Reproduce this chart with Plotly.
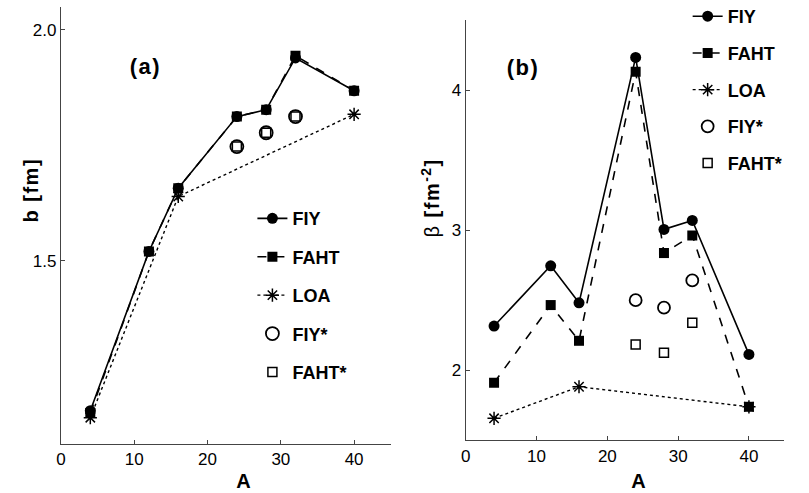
import plotly.graph_objects as go

# ---- data ----
A_all = [4, 12, 16, 24, 28, 32, 40]
A_loa = [4, 16, 40]
A_star = [24, 28, 32]

# panel (a): b [fm]
b_fiy = [1.175, 1.52, 1.657, 1.812, 1.827, 1.939, 1.868]
b_faht = [1.170, 1.52, 1.657, 1.812, 1.827, 1.944, 1.868]
b_loa = [1.160, 1.639, 1.817]
b_fiy_s = [1.747, 1.777, 1.812]
b_faht_s = [1.747, 1.777, 1.812]

# panel (b): beta [fm^-2]
be_fiy = [2.316, 2.746, 2.482, 4.233, 3.006, 3.070, 2.114]
be_faht = [1.912, 2.466, 2.211, 4.130, 2.837, 2.963, 1.740]
be_loa = [1.658, 1.883, 1.740]
be_fiy_s = [2.501, 2.447, 2.642]
be_faht_s = [2.185, 2.126, 2.340]

names = ["FIY", "FAHT", "LOA", "FIY*", "FAHT*"]

FONT = "Liberation Sans"
fig = go.Figure()


def add_panel(xa, ya, leg, fiy, faht, loa, fiy_s, faht_s, open_size):
    common = dict(xaxis=xa, yaxis=ya, legend=leg)
    fig.add_trace(go.Scatter(x=A_all, y=fiy, name=names[0], mode="lines+markers",
                             line=dict(color="black", width=1.6, dash="solid"),
                             marker=dict(symbol="circle", size=11, color="black"),
                             legendgroup=leg + "1", **common))
    fig.add_trace(go.Scatter(x=A_all, y=faht, name=names[1], mode="lines+markers",
                             line=dict(color="black", width=1.6, dash="dash"),
                             marker=dict(symbol="square", size=10, color="black"),
                             legendgroup=leg + "2", **common))
    fig.add_trace(go.Scatter(x=A_loa, y=loa, name=names[2], mode="lines+markers",
                             line=dict(color="black", width=1.4, dash="dot"),
                             marker=dict(symbol="asterisk-open", size=11, color="black",
                                         line=dict(color="black", width=1.5)),
                             legendgroup=leg + "3", **common))
    fig.add_trace(go.Scatter(x=A_star, y=fiy_s, name=names[3], mode="markers",
                             marker=dict(symbol="circle-open", size=open_size, color="black",
                                         line=dict(color="black", width=1.8)),
                             legendgroup=leg + "4", **common))
    fig.add_trace(go.Scatter(x=A_star, y=faht_s, name=names[4], mode="markers",
                             marker=dict(symbol="square-open", size=9, color="black",
                                         line=dict(color="black", width=1.5)),
                             legendgroup=leg + "5", **common))


add_panel("x", "y", "legend", b_fiy, b_faht, b_loa, b_fiy_s, b_faht_s, 13)
add_panel("x2", "y2", "legend2", be_fiy, be_faht, be_loa, be_fiy_s, be_faht_s, 12)

axis_common = dict(showline=True, linecolor="#444", linewidth=1.2, ticks="inside",
                   ticklen=4, tickcolor="#444", showgrid=False, zeroline=False,
                   tickfont=dict(family=FONT, size=17, color="black"), automargin=False)

leg_common = dict(font=dict(family=FONT, size=18, color="black", weight="bold"),
                  bgcolor="rgba(0,0,0,0)", itemwidth=30,
                  xanchor="left", yanchor="top")

fig.update_layout(
    width=809, height=493,
    margin=dict(l=0, r=0, t=0, b=0, autoexpand=False),
    paper_bgcolor="white", plot_bgcolor="white",
    xaxis=dict(domain=[0.0754, 0.483], range=[0, 45], tickvals=[0, 10, 20, 30, 40],
               anchor="y", **axis_common),
    yaxis=dict(domain=[0.0994, 0.9864], range=[1.103, 2.05], tickvals=[1.5, 2.0],
               tickformat=".1f", anchor="x", **axis_common),
    xaxis2=dict(domain=[0.5757, 0.9695], range=[0, 45], tickvals=[0, 10, 20, 30, 40],
                anchor="y2", **axis_common),
    yaxis2=dict(domain=[0.1075, 0.9594], range=[1.503, 4.5], tickvals=[2, 3, 4],
                anchor="x2", **axis_common),
    legend=dict(x=0.312, y=0.594, tracegroupgap=12, **leg_common),
    legend2=dict(x=0.85, y=1.004, tracegroupgap=10.3, **leg_common),
    showlegend=True,
)

ann_font = dict(family=FONT, size=20, color="black", weight="bold")
fig.add_annotation(text="b [fm]", x=18 / 809, y=1 - 160 / 493, xref="paper", yref="paper",
                   textangle=-90, showarrow=False, font=ann_font)
fig.add_annotation(text="β <b>[fm<sup>-2</sup>]</b>", x=430 / 809, y=1 - 163 / 493,
                   xref="paper", yref="paper", textangle=-90, showarrow=False,
                   font=dict(family=FONT, size=20, color="black"))
fig.add_annotation(text="A", x=25, y=1 - 481 / 493, xref="x", yref="paper", yanchor="middle",
                   showarrow=False, font=ann_font)
fig.add_annotation(text="A", x=24.5, y=1 - 481 / 493, xref="x2", yref="paper", yanchor="middle",
                   showarrow=False, font=ann_font)
fig.add_annotation(text="(a)", x=130 / 809, y=1 - 52 / 493, xref="paper", yref="paper",
                   showarrow=False, font=dict(family=FONT, size=22, color="black", weight="bold"))
fig.add_annotation(text="(b)", x=523 / 809, y=1 - 53 / 493, xref="paper", yref="paper",
                   showarrow=False, font=dict(family=FONT, size=22, color="black", weight="bold"))

post = (
    "document.body.style.margin='0';document.body.style.overflow='hidden';"
    "document.querySelectorAll('.annotation-text').forEach(function(e){e.style.letterSpacing='1.5px';});"
)
fig.write_html("out.html", config={"displayModeBar": False}, post_script=post)
